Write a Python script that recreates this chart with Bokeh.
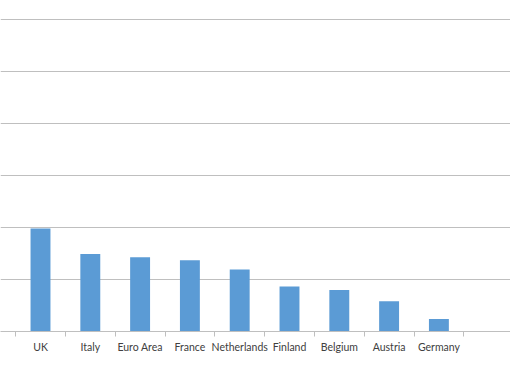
from bokeh.plotting import figure
from bokeh.models import Range1d, FixedTicker, ColumnDataSource
from bokeh.embed import file_html
from bokeh.resources import INLINE

countries = ["UK", "Italy", "Euro Area", "France", "Netherlands", "Finland",
             "Belgium", "Austria", "Germany"]
values = [1.98, 1.49, 1.43, 1.37, 1.19, 0.865, 0.80, 0.58, 0.24]
grid_levels = [1, 2, 3, 4, 5, 6]

xs = list(range(len(countries)))
src = ColumnDataSource(dict(x=xs, top=values, name=countries))

W, H = 510, 361
step = 49.8          # px per category
x0 = 40              # px of first category centre
base = 331           # px of baseline
unit = 52            # px per grid step

p = figure(width=W, height=H, output_backend="svg", toolbar_location=None,
           x_range=Range1d(-x0 / step, (W - x0) / step),
           y_range=Range1d(0, base / unit),
           y_axis_location=None,
           min_border_left=0, min_border_right=0, min_border_top=0,
           min_border_bottom=H - base)
p.outline_line_color = None
p.background_fill_color = "white"
p.border_fill_color = "white"

p.vbar(x="x", top="top", width=0.4, bottom=0, source=src,
       fill_color="#5B9BD5", line_color=None)

ax = p.xaxis[0]
ax.ticker = FixedTicker(ticks=xs, minor_ticks=[i - 0.5 for i in range(len(countries) + 2)])
ax.major_label_overrides = {i: c for i, c in enumerate(countries)}
ax.major_tick_out = 0
ax.major_tick_in = 0
ax.minor_tick_out = 5
ax.minor_tick_in = 0
ax.minor_tick_line_color = "#BFBFBF"
ax.axis_line_color = "#BFBFBF"
ax.major_label_standoff = 4
ax.major_label_text_font = "Lato"
ax.major_label_text_font_size = "10.5px"
ax.major_label_text_color = "#404040"

p.xgrid.visible = False
p.ygrid.ticker = FixedTicker(ticks=grid_levels)
p.ygrid.grid_line_color = "#BFBFBF"
p.ygrid.grid_line_width = 1

open("out.html", "w").write(file_html(p, INLINE))
